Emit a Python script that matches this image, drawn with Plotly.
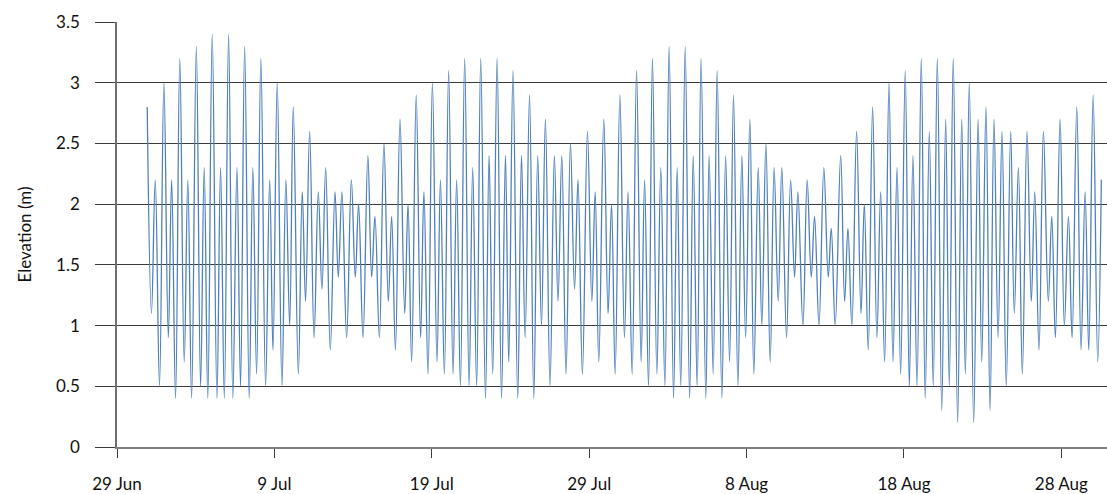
import pandas as pd
import plotly.graph_objects as go

# Predicted high / low water: time in days after 29 Jun 00:00, height in metres
t_days = [
    1.92, 2.19, 2.43, 2.70, 2.98, 3.26, 3.47, 3.72, 3.99, 4.27,
    4.50, 4.74, 5.04, 5.31, 5.54, 5.77, 6.05, 6.35, 6.58, 6.82,
    7.09, 7.36, 7.62, 7.85, 8.11, 8.40, 8.63, 8.87, 9.14, 9.44,
    9.70, 9.91, 10.18, 10.48, 10.73, 10.97, 11.20, 11.52, 11.77, 11.98,
    12.24, 12.52, 12.79, 13.02, 13.26, 13.55, 13.85, 14.06, 14.29, 14.59,
    14.89, 15.14, 15.35, 15.63, 15.94, 16.18, 16.39, 16.67, 16.96, 17.24,
    17.45, 17.69, 17.98, 18.28, 18.49, 18.72, 19.01, 19.29, 19.50, 19.76,
    20.04, 20.33, 20.55, 20.80, 21.07, 21.35, 21.58, 21.82, 22.09, 22.37,
    22.60, 22.85, 23.11, 23.41, 23.64, 23.87, 24.15, 24.43, 24.68, 24.89,
    25.16, 25.46, 25.70, 25.93, 26.21, 26.48, 26.73, 26.97, 27.22, 27.51,
    27.79, 28.02, 28.26, 28.53, 28.81, 29.07, 29.29, 29.57, 29.89, 30.17,
    30.38, 30.61, 30.93, 31.20, 31.42, 31.65, 31.95, 32.24, 32.47, 32.73,
    33.01, 33.30, 33.52, 33.77, 34.02, 34.30, 34.55, 34.81, 35.08, 35.36,
    35.59, 35.82, 36.10, 36.38, 36.61, 36.86, 37.11, 37.41, 37.62, 37.88,
    38.13, 38.43, 38.67, 38.92, 39.17, 39.45, 39.70, 39.94, 40.21, 40.46,
    40.74, 40.97, 41.23, 41.50, 41.75, 42.01, 42.24, 42.54, 42.80, 43.05,
    43.26, 43.58, 43.85, 44.11, 44.32, 44.60, 44.91, 45.19, 45.38, 45.63,
    45.98, 46.23, 46.44, 46.69, 46.99, 47.27, 47.48, 47.73, 48.01, 48.28,
    48.52, 48.77, 49.05, 49.30, 49.56, 49.79, 50.08, 50.34, 50.57, 50.83,
    51.10, 51.35, 51.61, 51.86, 52.12, 52.40, 52.65, 52.88, 53.13, 53.41,
    53.67, 53.90, 54.15, 54.43, 54.71, 54.94, 55.21, 55.47, 55.72, 55.98,
    56.23, 56.50, 56.78, 57.01, 57.27, 57.52, 57.82, 58.09, 58.31, 58.58,
    58.86, 59.17, 59.39, 59.62, 59.92, 60.19, 60.45, 60.68, 60.98, 61.25,
    61.51, 61.74, 62.02, 62.31, 62.54,
]

elevation_m = [
    2.8, 1.1, 2.2, 0.5, 3.0, 0.9, 2.2, 0.4, 3.2, 0.7,
    2.2, 0.4, 3.3, 0.5, 2.3, 0.4, 3.4, 0.4, 2.3, 0.4,
    3.4, 0.4, 2.3, 0.5, 3.3, 0.4, 2.3, 0.6, 3.2, 0.5,
    2.2, 0.8, 3.0, 0.5, 2.2, 1.0, 2.8, 0.6, 2.1, 1.2,
    2.6, 0.9, 2.1, 1.3, 2.3, 0.8, 2.1, 1.4, 2.1, 0.9,
    2.2, 1.4, 2.0, 0.9, 2.4, 1.4, 1.9, 0.9, 2.5, 1.2,
    1.9, 0.8, 2.7, 1.1, 2.0, 0.7, 2.9, 0.9, 2.1, 0.6,
    3.0, 0.7, 2.2, 0.6, 3.1, 0.6, 2.2, 0.5, 3.2, 0.5,
    2.3, 0.5, 3.2, 0.4, 2.4, 0.6, 3.2, 0.4, 2.4, 0.7,
    3.1, 0.4, 2.4, 0.9, 2.9, 0.4, 2.4, 1.0, 2.7, 0.5,
    2.4, 1.2, 2.4, 0.6, 2.5, 1.3, 2.2, 0.6, 2.6, 1.2,
    2.1, 0.7, 2.7, 1.1, 2.0, 0.6, 2.9, 0.9, 2.1, 0.6,
    3.1, 0.7, 2.2, 0.5, 3.2, 0.6, 2.3, 0.5, 3.3, 0.4,
    2.3, 0.5, 3.3, 0.4, 2.4, 0.5, 3.2, 0.4, 2.4, 0.6,
    3.1, 0.4, 2.4, 0.7, 2.9, 0.5, 2.4, 0.9, 2.7, 0.6,
    2.3, 1.0, 2.5, 0.7, 2.3, 1.2, 2.3, 0.9, 2.2, 1.4,
    2.1, 1.0, 2.2, 1.4, 1.9, 1.0, 2.3, 1.4, 1.8, 1.0,
    2.4, 1.2, 1.8, 1.0, 2.6, 1.1, 2.0, 0.8, 2.8, 0.9,
    2.1, 0.7, 3.0, 0.7, 2.3, 0.6, 3.1, 0.5, 2.4, 0.5,
    3.2, 0.4, 2.6, 0.5, 3.2, 0.3, 2.7, 0.5, 3.2, 0.2,
    2.7, 0.6, 3.0, 0.2, 2.7, 0.7, 2.8, 0.3, 2.7, 0.9,
    2.6, 0.5, 2.6, 1.1, 2.3, 0.6, 2.6, 1.2, 2.1, 0.8,
    2.6, 1.2, 1.9, 0.9, 2.7, 1.0, 1.9, 0.9, 2.8, 0.8,
    2.1, 0.8, 2.9, 0.7, 2.2,
]

x_tick_labels = ["29 Jun", "9 Jul", "19 Jul", "29 Jul", "8 Aug", "18 Aug", "28 Aug"]
y_tick_values = [0, 0.5, 1, 1.5, 2, 2.5, 3, 3.5]

start = pd.Timestamp("2013-06-29")
times = start + pd.to_timedelta(t_days, unit="D")
tick_dates = [start + pd.Timedelta(days=10 * i) for i in range(len(x_tick_labels))]

FONT = "Lato, 'Liberation Sans', sans-serif"
GRID = "#3c3c3c"

fig = go.Figure(
    go.Scatter(
        x=times,
        y=elevation_m,
        mode="lines",
        line=dict(color="#4f81bd", width=1.3, shape="spline", smoothing=1.1),
        hoverinfo="x+y",
    )
)

fig.update_layout(
    width=1107,
    height=494,
    margin=dict(l=117, r=0, t=22, b=44),
    paper_bgcolor="white",
    plot_bgcolor="white",
    showlegend=False,
    font=dict(family=FONT, size=17, color="#111111"),
)

fig.update_xaxes(
    range=[start, start + pd.Timedelta(days=62.9)],
    tickvals=tick_dates,
    ticktext=x_tick_labels,
    ticks="outside",
    ticklen=9,
    tickwidth=1.2,
    tickcolor=GRID,
    ticklabelstandoff=12,
    showgrid=False,
    showline=True,
    linecolor="#808080",
    linewidth=2,
    zeroline=False,
)

fig.update_yaxes(
    range=[0, 3.5],
    tickvals=y_tick_values,
    ticktext=[f"{v:g}" for v in y_tick_values],
    ticks="outside",
    ticklen=20,
    tickwidth=1.2,
    tickcolor=GRID,
    ticklabelstandoff=12,
    showgrid=True,
    gridcolor=GRID,
    gridwidth=1.2,
    showline=True,
    linecolor="#707070",
    linewidth=1.5,
    zeroline=False,
    title=dict(text="Elevation (m)", standoff=20, font=dict(size=17)),
)

fig.write_html("out.html")
